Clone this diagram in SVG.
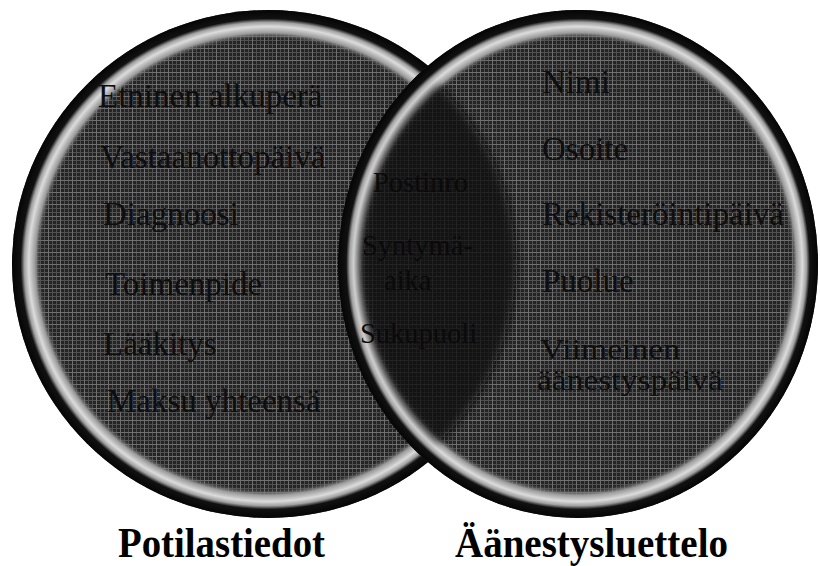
<svg xmlns="http://www.w3.org/2000/svg" width="820" height="566" viewBox="0 0 820 566">
<defs>
<style>
.t{font-family:"Liberation Serif","Times New Roman",serif;font-size:33px;fill:#0e0e0e}
.s{font-family:"Liberation Serif","Times New Roman",serif;font-size:30px;fill:#0e0e0e}
.m{font-family:"Liberation Serif","Times New Roman",serif;font-size:28.5px;fill:#0a0a0a}
.h{font-family:"Liberation Serif","Times New Roman",serif;font-size:42px;font-weight:bold;fill:#000}
</style>
<pattern id="grid" width="12" height="12" patternUnits="userSpaceOnUse">
<rect width="12" height="12" fill="#242424"/>
<path d="M0.5 0V12M4.5 0V12M8.5 0V12M0 0.5H12M0 4.5H12M0 8.5H12" stroke="#515151" stroke-width="1"/>
<path d="M0.5 0V12M0 0.5H12" stroke="#707070" stroke-width="1"/>
</pattern>
<radialGradient id="ring">
<stop offset="0" stop-color="#444" stop-opacity="0"/>
<stop offset="0.885" stop-color="#444" stop-opacity="0"/>
<stop offset="0.91" stop-color="#9a9a9a"/>
<stop offset="0.935" stop-color="#dcdcdc"/>
<stop offset="0.952" stop-color="#a0a0a0"/>
<stop offset="0.966" stop-color="#111"/>
<stop offset="1" stop-color="#050505"/>
</radialGradient>
<clipPath id="leftInner"><ellipse cx="268" cy="264" rx="248" ry="246"/></clipPath>
<filter id="soft" x="-20%" y="-20%" width="140%" height="140%"><feGaussianBlur stdDeviation="5"/></filter>
</defs>
<rect width="820" height="566" fill="#fff"/>
<g id="node-left">
<ellipse cx="268" cy="264" rx="256" ry="254" fill="url(#grid)"/>
<ellipse cx="268" cy="264" rx="256" ry="254" fill="url(#ring)"/>
</g>
<g id="node-right">
<ellipse cx="578" cy="264" rx="240" ry="254" fill="url(#grid)"/>
<ellipse cx="578" cy="264" rx="240" ry="254" fill="url(#ring)"/>
</g>
<g id="node-overlap">
<g filter="url(#soft)">
<ellipse cx="578" cy="264" rx="218" ry="232" fill="#0a0a0a" fill-opacity="0.8" clip-path="url(#leftInner)"/>
</g>
</g>
<g id="labels-left">
<text class="t" x="98" y="107">Etninen alkuperä</text>
<text class="t" x="100" y="168">Vastaanottopäivä</text>
<text class="t" x="103" y="225">Diagnoosi</text>
<text class="t" x="105" y="295">Toimenpide</text>
<text class="t" x="103" y="355">Lääkitys</text>
<text class="t" x="107" y="412">Maksu yhteensä</text>
<text class="h" x="118" y="557" textLength="207" lengthAdjust="spacingAndGlyphs">Potilastiedot</text>
</g>
<g id="labels-overlap">
<text class="m" x="373" y="192">Postinro</text>
<text class="m" x="362" y="255">Syntymä-</text>
<text class="m" x="384" y="290">aika</text>
<text class="m" x="360" y="343">Sukupuoli</text>
</g>
<g id="labels-right">
<text class="t" x="542" y="93">Nimi</text>
<text class="t" x="542" y="160">Osoite</text>
<text class="t" x="542" y="225">Rekisteröintipäivä</text>
<text class="t" x="542" y="292">Puolue</text>
<text class="s" x="540" y="359" textLength="140" lengthAdjust="spacingAndGlyphs">Viimeinen</text>
<text class="s" x="537" y="390" textLength="186" lengthAdjust="spacingAndGlyphs">äänestyspäivä</text>
<text class="h" x="455" y="557" textLength="273" lengthAdjust="spacingAndGlyphs">Äänestysluettelo</text>
</g>
</svg>
